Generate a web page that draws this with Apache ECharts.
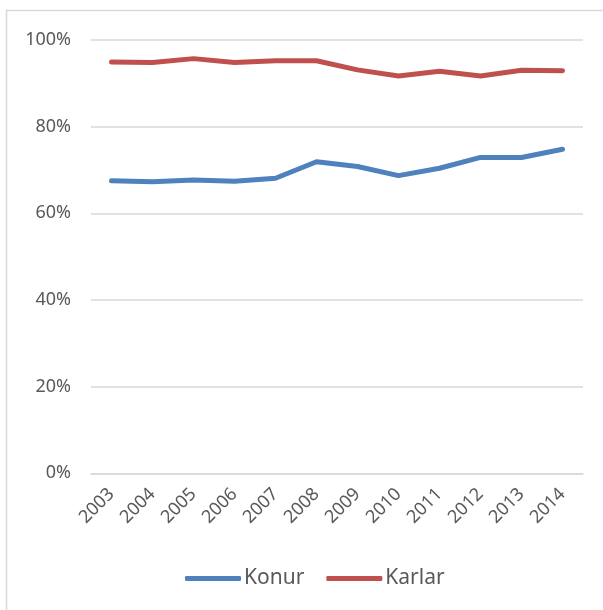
<!DOCTYPE html>
<html>
<head>
<meta charset="utf-8">
<script src="https://cdn.jsdelivr.net/npm/echarts@6/dist/echarts.min.js"></script>
<style>
html,body{margin:0;padding:0;background:#fff;}
#chart{width:603px;height:610px;}
</style>
</head>
<body>
<div id="chart"></div>
<script>
var years = ['2003','2004','2005','2006','2007','2008','2009','2010','2011','2012','2013','2014'];
var konur = [67.5, 67.3, 67.7, 67.4, 68.1, 71.9, 70.8, 68.7, 70.4, 72.9, 72.9, 74.8];
var karlar = [94.9, 94.8, 95.7, 94.8, 95.2, 95.2, 93.1, 91.7, 92.8, 91.7, 93.0, 92.9];
var yTicks = [0, 20, 40, 60, 80, 100];

var font = 'Noto Sans';
var chart = echarts.init(document.getElementById('chart'), null, {renderer: 'canvas'});
chart.setOption({
  animation: false,
  backgroundColor: '#fff',
  graphic: [{
    type: 'rect',
    shape: {x: 6.5, y: 10.5, width: 700, height: 700},
    style: {fill: 'none', stroke: '#D9D9D9', lineWidth: 1.5},
    silent: true
  }],
  grid: {left: 91, right: 20, top: 40, bottom: 136.7, containLabel: false},
  xAxis: {
    type: 'category',
    data: years,
    boundaryGap: true,
    axisLine: {show: true, lineStyle: {color: '#D9D9D9', width: 1.5}},
    axisTick: {show: false},
    axisLabel: {rotate: 45, margin: 18, color: '#595959', fontFamily: font, fontSize: 18}
  },
  yAxis: {
    type: 'value',
    min: yTicks[0],
    max: yTicks[yTicks.length - 1],
    interval: 20,
    axisLine: {show: false},
    axisTick: {show: false},
    splitLine: {show: true, lineStyle: {color: '#D9D9D9', width: 1.5}},
    axisLabel: {margin: 20, color: '#595959', fontFamily: font, fontSize: 18,
      formatter: function (v) { return v + '%'; }}
  },
  legend: {
    data: ['Konur', 'Karlar'],
    bottom: 16,
    left: 180,
    icon: 'roundRect',
    itemWidth: 56,
    itemHeight: 5,
    itemGap: 22,
    textStyle: {color: '#595959', fontFamily: font, fontSize: 21, padding: [0, 0, 0, -2]}
  },
  series: [
    {name: 'Konur', type: 'line', data: konur, symbol: 'none',
      lineStyle: {color: '#4F81BD', width: 5, cap: 'round', join: 'round'},
      itemStyle: {color: '#4F81BD'}},
    {name: 'Karlar', type: 'line', data: karlar, symbol: 'none',
      lineStyle: {color: '#C0504D', width: 5, cap: 'round', join: 'round'},
      itemStyle: {color: '#C0504D'}}
  ]
});
</script>
</body>
</html>
